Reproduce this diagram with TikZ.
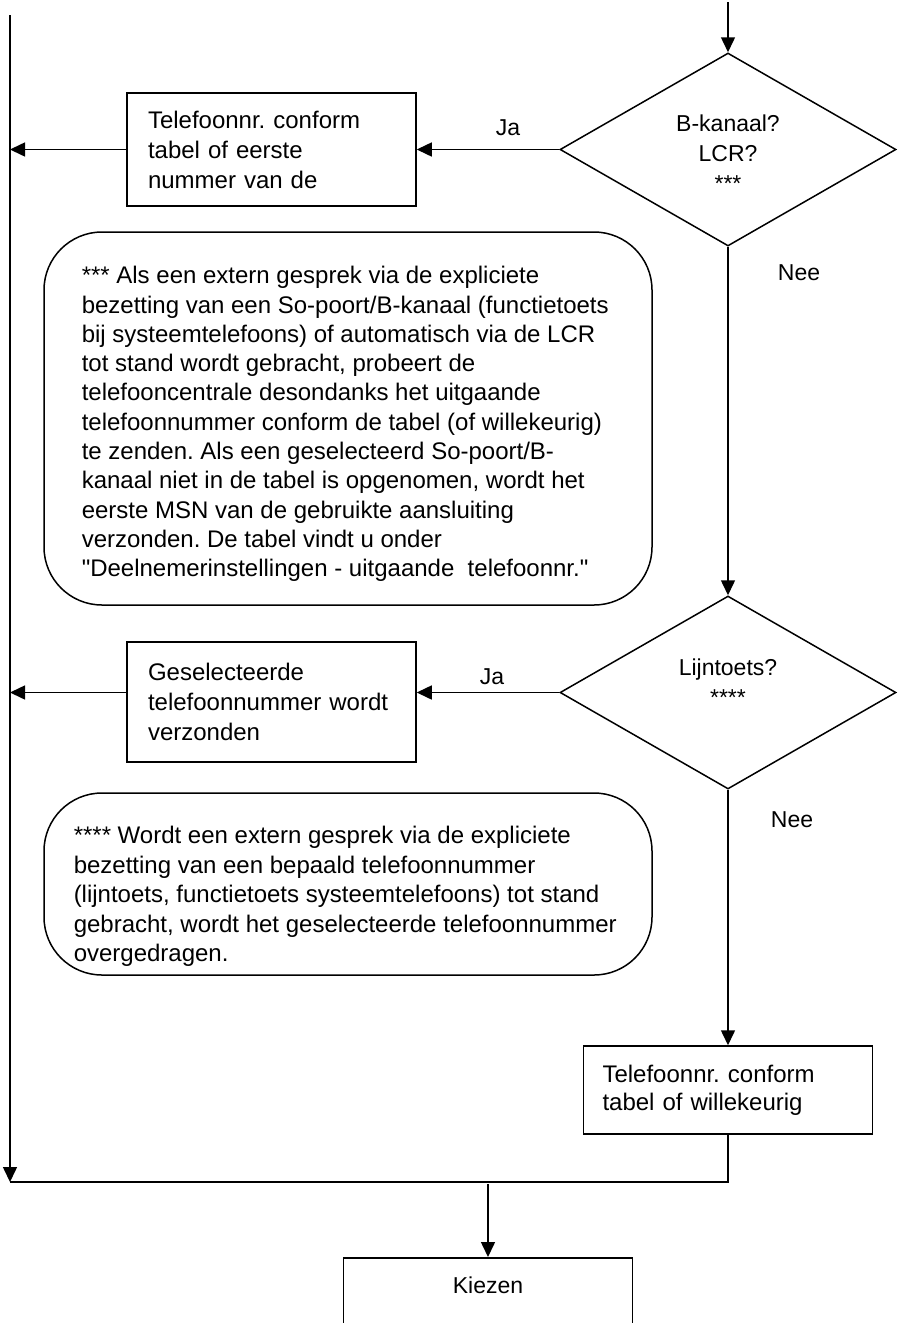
\documentclass[tikz,border=0pt]{standalone}
\usepackage{fontspec}
\newfontfamily\plainsans{Liberation Sans}
\usetikzlibrary{shapes.geometric,arrows.meta}
\begin{document}
\frenchspacing
\begin{tikzpicture}[x=1pt,y=-1pt, line width=1.5pt,
  font=\plainsans\fontsize{24}{30}\selectfont,
  arr/.style={-{Triangle[length=15pt,width=14pt]}},
  box/.style={draw, rectangle, align=left, inner ysep=0pt},
  dec/.style={draw, diamond, minimum width=336pt, minimum height=193pt, inner sep=0pt},
  note/.style={draw, rectangle, rounded corners=58pt, minimum width=608pt, inner sep=0pt},
  txt/.style={inner sep=0pt, align=left, anchor=west},
  lab/.style={inner sep=0pt, font=\plainsans\fontsize{23}{30}\selectfont, align=center}]
\clip (0,0) rectangle (899,1323);

% decisions
\node[dec] (d1) at (728,149.5) {};
\node[lab] (d1t) at (728,153) {B-kanaal?\\LCR?\\***};
\node[dec] (d2) at (728,692.5) {};
\node[lab] (d2t) at (728,682) {Lijntoets?\\****};

% boxes
\node[box, text width=247pt, inner xsep=21pt, minimum height=113pt] (b1) at (271.5,149.5)
  {Telefoonnr. conform\\tabel of eerste\\nummer van de};
\node[box, text width=247pt, inner xsep=21pt, minimum height=120pt] (b2) at (271.5,702)
  {Geselecteerde\\telefoonnummer wordt\\verzonden};
\node[box, text width=251pt, inner xsep=19pt, minimum height=88pt,
  font=\plainsans\fontsize{24}{28}\selectfont] (b3) at (728,1090)
  {Telefoonnr. conform\\tabel of willekeurig};
\node[draw, minimum width=289pt, minimum height=140pt, anchor=north, inner sep=0pt] (k) at (488,1257) {};
\node[lab] (kt) at (488,1285) {Kiezen};

% notes
\node[note, minimum height=373pt] (n1) at (348,418.5) {};
\node[txt, font=\plainsans\fontsize{24}{29.3}\selectfont] (n1t) at (81,424) {%
*** Als een extern gesprek via de expliciete\\
bezetting van een So-poort/B-kanaal (functietoets\\
bij systeemtelefoons) of automatisch via de LCR\\
tot stand wordt gebracht, probeert de\\
telefooncentrale desondanks het uitgaande\\
telefoonnummer conform de tabel (of willekeurig)\\
te zenden. Als een geselecteerd So-poort/B-\\
kanaal niet in de tabel is opgenomen, wordt het\\
eerste MSN van de gebruikte aansluiting\\
verzonden. De tabel vindt u onder\\
"Deelnemerinstellingen - uitgaande\ \ telefoonnr."};
\node[note, minimum height=182pt] (n2) at (348,884) {};
\node[txt, font=\plainsans\fontsize{24}{29.5}\selectfont] (n2t) at (73,896.5) {%
**** Wordt een extern gesprek via de expliciete\\
bezetting van een bepaald telefoonnummer\\
(lijntoets, functietoets systeemtelefoons) tot stand\\
gebracht, wordt het geselecteerde telefoonnummer\\
overgedragen.};

% labels
\node[lab] (ja1) at (508,128) {Ja};
\node[lab] (nee1) at (799,273) {Nee};
\node[lab] (ja2) at (492,677) {Ja};
\node[lab] (nee2) at (792,820) {Nee};

% coordinates
\coordinate (top) at (728,2);
\coordinate (l1) at (10,149.5);
\coordinate (l2) at (10,692.5);
\coordinate (ltop) at (10,15);
\coordinate (lbot) at (10,1182);
\coordinate (mid) at (488,1184);

% connectors
\draw[arr] (top) -- (d1.north);
\draw[arr] (d1.west) -- (b1.east);
\draw[arr] (b1.west) -- (l1);
\draw[arr] (d1.south) -- (d2.north);
\draw[arr] (d2.west) -- (d2.west -| b2.east);
\draw[arr] (l2 -| b2.west) -- (l2);
\draw[arr] (d2.south) -- (b3.north);
\draw[arr] (ltop) -- (lbot);
\draw (b3.south) |- (lbot);
\draw[arr] (mid) -- (k.north);
\end{tikzpicture}
\end{document}
